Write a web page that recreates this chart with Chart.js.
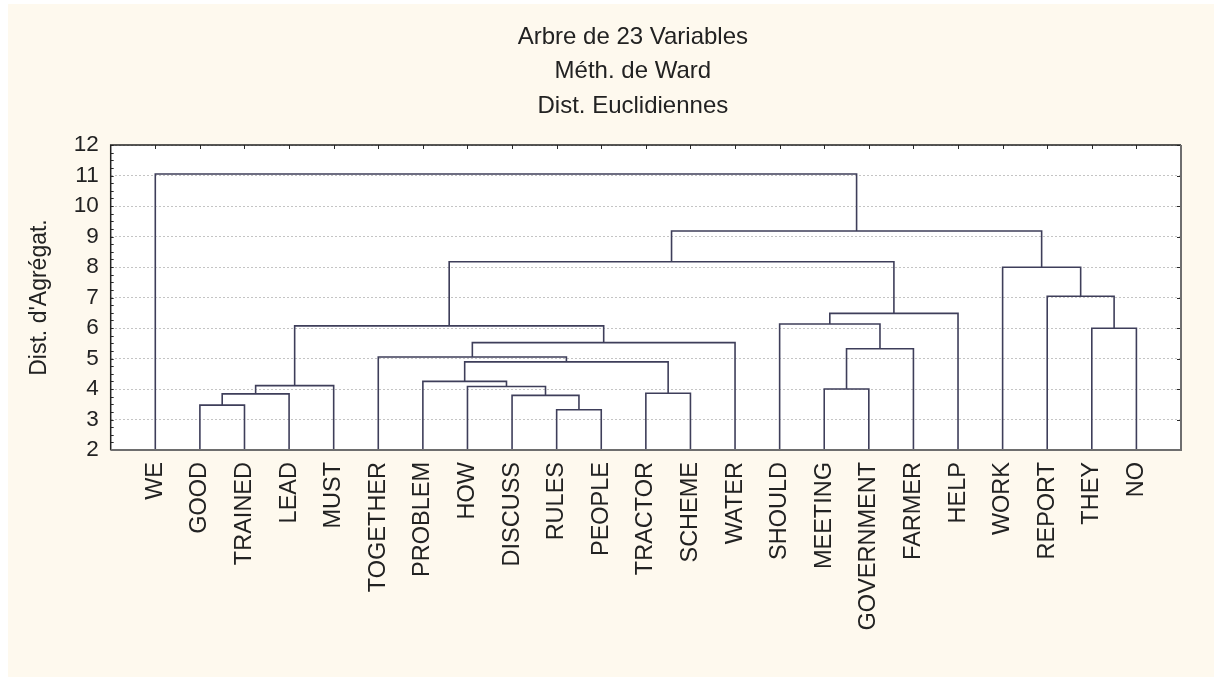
<!DOCTYPE html>
<html>
<head>
<meta charset="utf-8">
<script src="https://cdn.jsdelivr.net/npm/chart.js@4.4.1/dist/chart.umd.min.js"></script>
<style>
  html, body { margin: 0; padding: 0; background: #ffffff; }
  #wrap {
    position: absolute;
    left: 8px;
    top: 4px;
    width: 1206px;
    height: 673px;
    background: #fef9ee;
  }
</style>
</head>
<body>
<div id="wrap"><canvas id="treeChart" width="1206" height="673"></canvas></div>
<script>
// leaves in drawing order
const leaves = [
  "WE", "GOOD", "TRAINED", "LEAD", "MUST", "TOGETHER", "PROBLEM", "HOW",
  "DISCUSS", "RULES", "PEOPLE", "TRACTOR", "SCHEME", "WATER", "SHOULD",
  "MEETING", "GOVERNMENT", "FARMER", "HELP", "WORK", "REPORT", "THEY", "NO",
];

// merges: ids < 23 are leaves, merge i creates node 23 + i
const mergeLeft = [9, 1, 8, 24, 11, 15, 7, 26, 6, 31, 5, 28, 33, 21, 30, 14, 38, 20, 19, 37, 42, 0];
const mergeRight = [10, 2, 23, 3, 12, 16, 25, 4, 29, 27, 32, 17, 13, 22, 35, 34, 18, 36, 40, 39, 41, 43];
const mergeHeight = [3.32, 3.47, 3.79, 3.84, 3.86, 4.0, 4.08, 4.11, 4.25, 4.89, 5.05, 5.32, 5.52, 5.99, 6.07, 6.13, 6.48, 7.04, 7.99, 8.17, 9.18, 11.05];

const yTicks = [2, 3, 4, 5, 6, 7, 8, 9, 10, 11, 12];
const titleLines = ["Arbre de 23 Variables", "Méth. de Ward", "Dist. Euclidiennes"];
const yTitle = "Dist. d'Agrégat.";

const FONT = "Liberation Sans, Arial, sans-serif";

function buildLinks() {
  const nodeX = leaves.map((_, i) => i + 1);
  const nodeH = leaves.map(() => 0);
  const links = [];
  mergeLeft.forEach((l, i) => {
    const r = mergeRight[i];
    const h = mergeHeight[i];
    links.push([
      { x: nodeX[l], y: nodeH[l] },
      { x: nodeX[l], y: h },
      { x: nodeX[r], y: h },
      { x: nodeX[r], y: nodeH[r] },
    ]);
    nodeX.push((nodeX[l] + nodeX[r]) / 2);
    nodeH.push(h);
  });
  return links;
}

const frame = {
  id: "frame",
  beforeDraw(chart) {
    const { ctx, chartArea: a } = chart;
    ctx.save();
    ctx.fillStyle = "#ffffff";
    ctx.fillRect(a.left, a.top, a.right - a.left, a.bottom - a.top);
    ctx.restore();
  },
  afterDraw(chart) {
    const { ctx, chartArea: a } = chart;
    const x = chart.scales.x;
    const y = chart.scales.y;
    ctx.save();

    // title block, a bit left of the plot centre like the original
    ctx.fillStyle = "#222222";
    ctx.font = `24px ${FONT}`;
    ctx.textAlign = "center";
    ctx.textBaseline = "middle";
    const cx = (a.left + a.right) / 2 - 13;
    titleLines.forEach((t, i) => {
      ctx.fillText(t, cx, a.top - 108 + i * 34.5);
    });

    ctx.strokeStyle = "#2a2a2a";
    ctx.lineWidth = 1;
    ctx.beginPath();
    // inner ticks along the top at each leaf
    leaves.forEach((_, i) => {
      const px = Math.round(x.getPixelForValue(i + 1)) + 0.5;
      ctx.moveTo(px, a.top);
      ctx.lineTo(px, a.top + 4);
    });
    // minor ticks on the left, major ticks on the right
    for (let v = yTicks[0]; v <= yTicks[yTicks.length - 1]; v += 0.25) {
      const py = Math.round(y.getPixelForValue(v)) + 0.5;
      ctx.moveTo(a.left, py);
      ctx.lineTo(a.left + 3, py);
    }
    yTicks.forEach((v) => {
      const py = Math.round(y.getPixelForValue(v)) + 0.5;
      ctx.moveTo(a.right, py);
      ctx.lineTo(a.right - 4, py);
    });
    ctx.stroke();

    ctx.lineWidth = 1.5;
    ctx.strokeStyle = "#222222";
    ctx.beginPath();
    ctx.moveTo(a.right, a.top);
    ctx.lineTo(a.left, a.top);
    ctx.lineTo(a.left, a.bottom);
    ctx.stroke();
    ctx.lineWidth = 2;
    ctx.strokeStyle = "#6e6e6e";
    ctx.beginPath();
    ctx.moveTo(a.left, a.bottom);
    ctx.lineTo(a.right, a.bottom);
    ctx.lineTo(a.right, a.top);
    ctx.stroke();
    ctx.restore();
  },
};

const links = buildLinks();

new Chart(document.getElementById("treeChart"), {
  type: "line",
  data: {
    datasets: links.map((pts) => ({
      data: pts,
      borderColor: "#3e3e5a",
      borderWidth: 1.6,
      pointRadius: 0,
      tension: 0,
      fill: false,
    })),
  },
  options: {
    responsive: false,
    animation: false,
    events: [],
    layout: { padding: { left: 14, right: 33, top: 141, bottom: 0 } },
    plugins: {
      legend: { display: false },
      tooltip: { enabled: false },
      title: { display: false },
    },
    scales: {
      x: {
        type: "linear",
        min: 0,
        max: leaves.length + 1,
        grid: { display: false },
        border: { display: false },
        afterBuildTicks(scale) {
          scale.ticks = leaves.map((_, i) => ({ value: i + 1 }));
        },
        afterFit(scale) {
          scale.height = 227;
        },
        ticks: {
          autoSkip: false,
          maxRotation: 90,
          minRotation: 90,
          padding: 4,
          color: "#222222",
          font: { family: FONT, size: 23.5 },
          callback: (v) => leaves[v - 1] || "",
        },
      },
      y: {
        type: "linear",
        min: yTicks[0],
        max: yTicks[yTicks.length - 1],
        afterBuildTicks(scale) {
          scale.ticks = yTicks.map((v) => ({ value: v }));
        },
        afterFit(scale) {
          scale.width = 102.7 - 14;
        },
        grid: { color: "#c4c4c4", lineWidth: 1, drawTicks: false },
        border: { display: false, dash: [2, 2] },
        ticks: {
          autoSkip: false,
          padding: 12,
          color: "#222222",
          font: { family: FONT, size: 22.5 },
        },
        title: {
          display: true,
          text: yTitle,
          color: "#222222",
          font: { family: FONT, size: 23 },
          padding: { top: 4, bottom: 4 },
        },
      },
    },
  },
  plugins: [frame],
});
</script>
</body>
</html>
